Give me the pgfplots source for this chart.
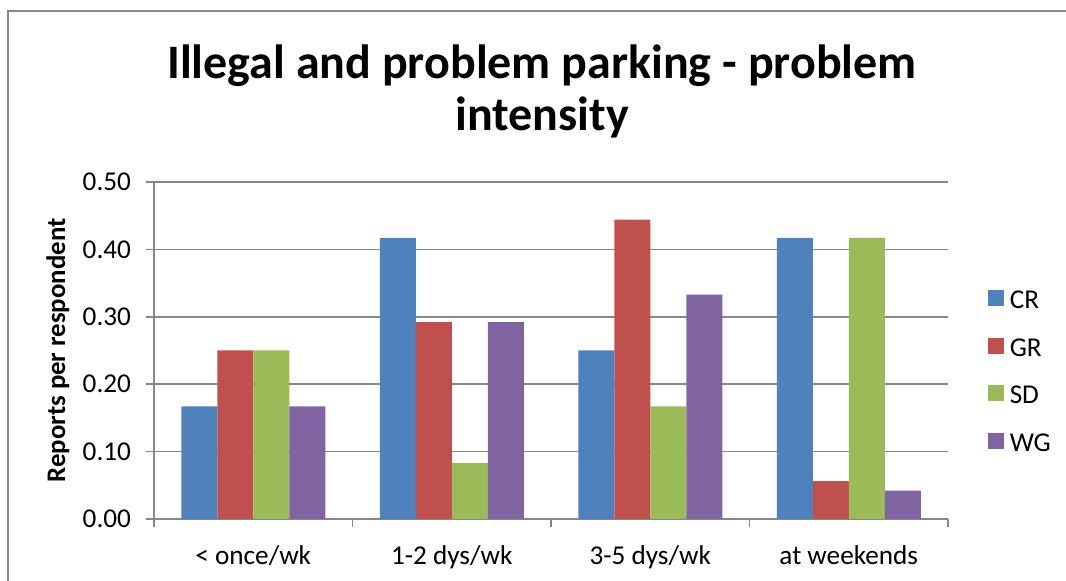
\documentclass[border=0pt]{standalone}
\usepackage{fontspec}
\setmainfont{Carlito}
\usepackage{pgfplots}
\pgfplotsset{compat=1.18}

\definecolor{cr}{HTML}{4F81BD}
\definecolor{gr}{HTML}{C0504D}
\definecolor{sd}{HTML}{9BBB59}
\definecolor{wg}{HTML}{8064A2}
\definecolor{axgray}{HTML}{878787}

\begin{document}
\begin{tikzpicture}
\useasboundingbox (0pt,0pt) rectangle (533pt,290.5pt);
\draw[axgray, line width=0.8pt] (4pt,-1pt) -- (4pt,285pt) -- (534pt,285pt);

\node[font=\fontsize{24}{26}\selectfont\bfseries, anchor=base] at (271pt,251pt) {Illegal and problem parking - problem};
\node[font=\fontsize{24}{26}\selectfont\bfseries, anchor=base] at (271pt,225pt) {intensity};

\begin{axis}[
  at={(77pt,31pt)}, anchor=south west,
  scale only axis,
  width=397pt, height=168.5pt,
  ybar=0pt, bar width=18pt,
  xmin=-0.5, xmax=3.5,
  ymin=0, ymax=0.5,
  xtick={0,1,2,3},
  xticklabels={{< once/wk},{1-2 dys/wk},{3-5 dys/wk},{at weekends}},
  minor xtick={-0.5,0.5,1.5,2.5,3.5},
  ytick={0,0.1,0.2,0.3,0.4,0.5},
  axis x line*=bottom, axis y line*=left,
  axis line style={axgray, line width=0.8pt},
  ymajorgrids, major grid style={axgray, line width=0.8pt},
  tick align=outside,
  major tick length=4pt, minor tick length=4pt,
  major x tick style={draw=none},
  minor x tick style={axgray, line width=0.8pt},
  major y tick style={axgray, line width=0.8pt},
  ticklabel style={font=\fontsize{13.6}{16}\selectfont},
  yticklabel style={xshift=-4pt, /pgf/number format/fixed, /pgf/number format/fixed zerofill,
    /pgf/number format/precision=2, /pgf/number format/assume math mode=true},
  xticklabel style={anchor=base, yshift=-19pt},
  every axis y label/.style={at={(axis description cs:-0.121,0.5)}, anchor=center, rotate=90, font=\fontsize{13.4}{15}\selectfont\bfseries},
  ylabel={Reports per respondent},
  legend style={at={(1.042,0.44)}, anchor=west, draw=none, fill=none,
    font=\fontsize{13.6}{16}\selectfont,
    nodes={inner sep=0pt, text height=8.5pt, text depth=0pt},
    row sep=14.5pt, column sep=3pt},
  legend cell align=left,
  legend image code/.code={\fill[#1] (0pt,-3pt) rectangle (8pt,5pt);},
]
\addplot[fill=cr, draw=none] coordinates {(0,0.167) (1,0.417) (2,0.25) (3,0.417)};
\addplot[fill=gr, draw=none] coordinates {(0,0.25) (1,0.292) (2,0.444) (3,0.056)};
\addplot[fill=sd, draw=none] coordinates {(0,0.25) (1,0.083) (2,0.167) (3,0.417)};
\addplot[fill=wg, draw=none] coordinates {(0,0.167) (1,0.292) (2,0.333) (3,0.042)};
\legend{CR,GR,SD,WG}
\end{axis}
\end{tikzpicture}
\end{document}
